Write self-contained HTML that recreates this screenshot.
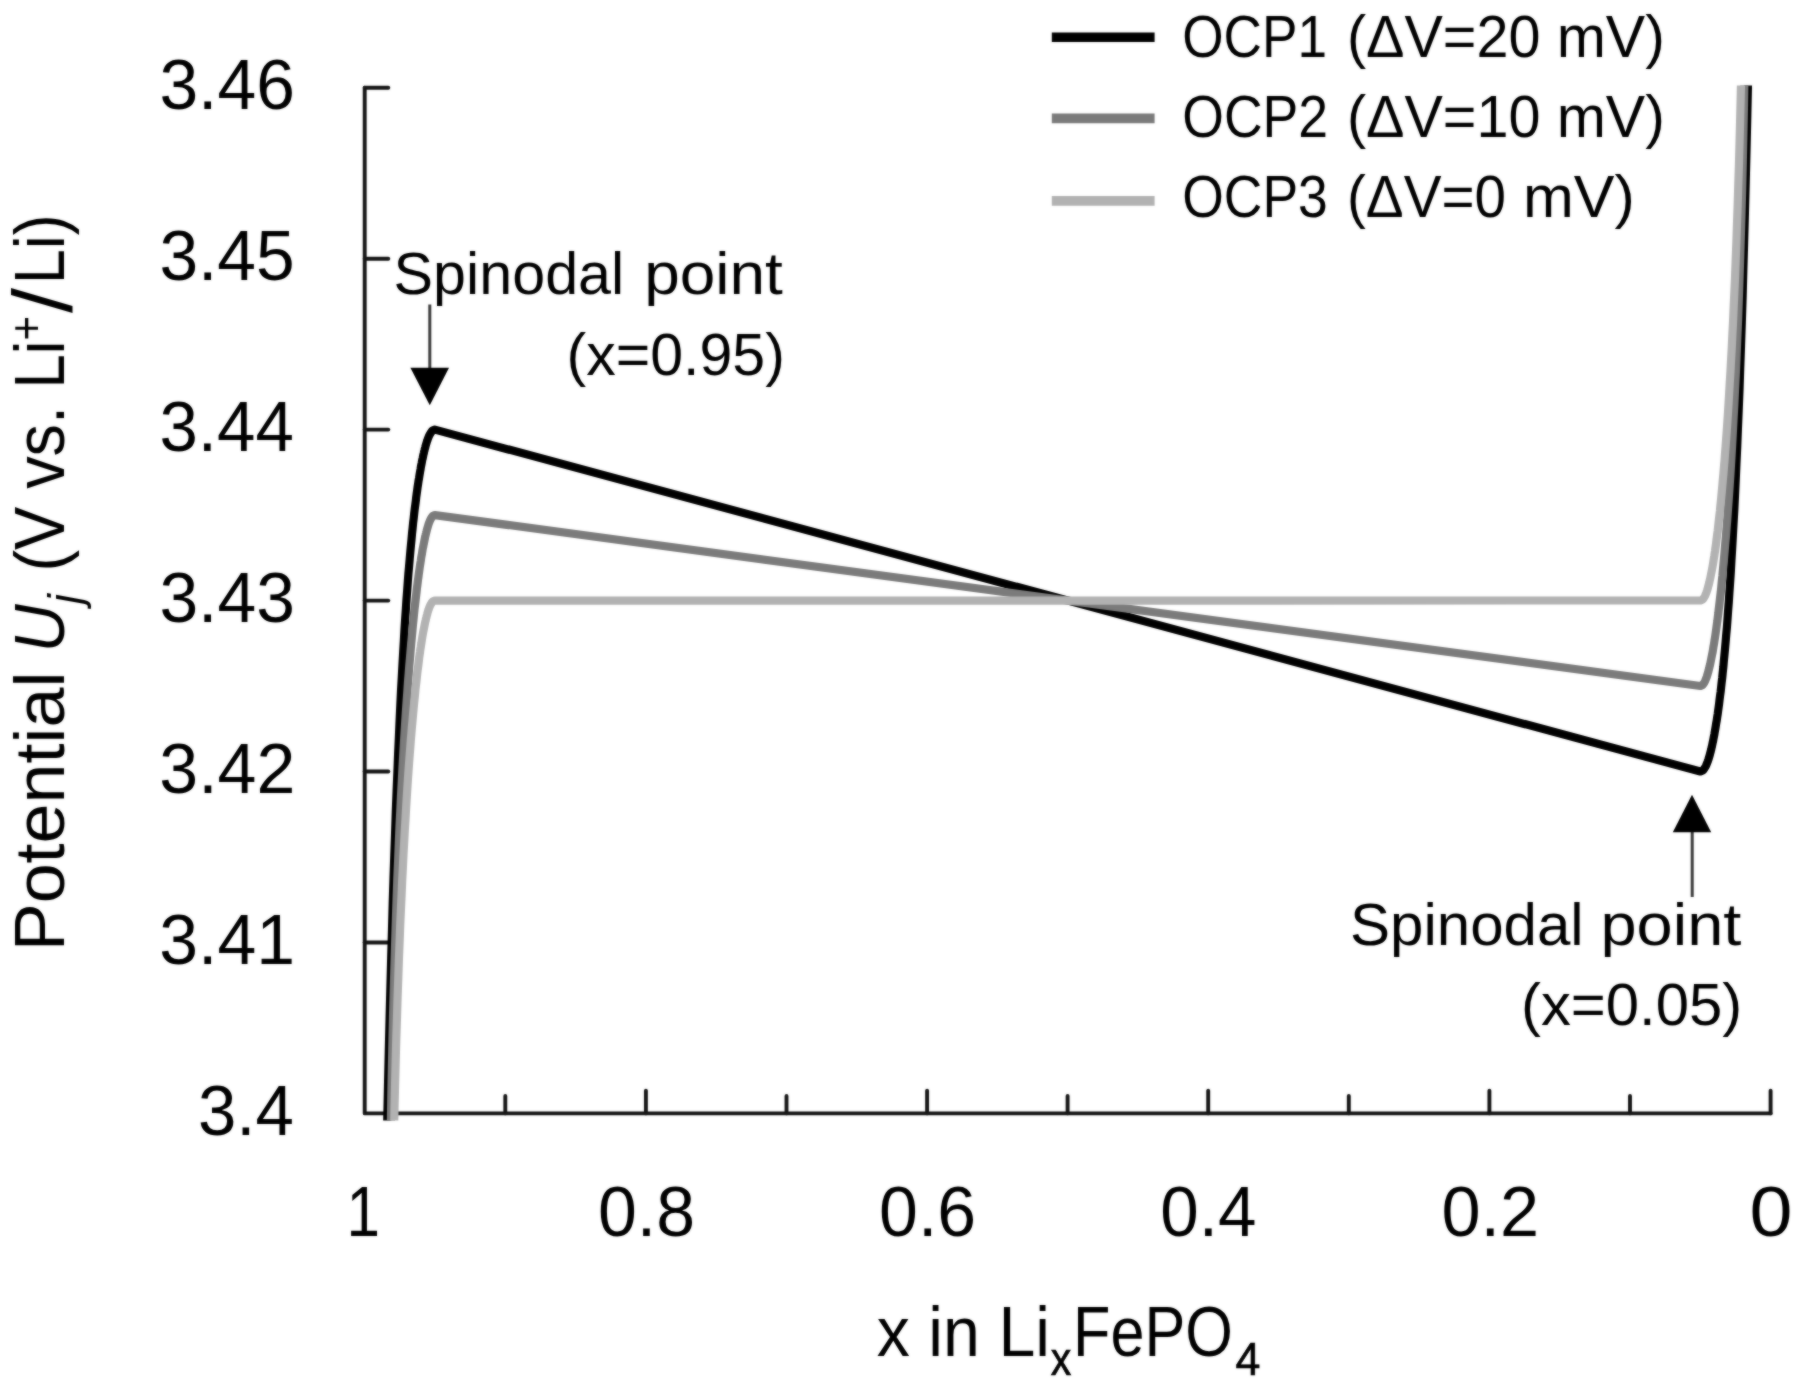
<!DOCTYPE html>
<html lang="en"><head><meta charset="utf-8"><title>OCP of LixFePO4</title>
<style>html,body{margin:0;padding:0;background:#fff}svg{display:block}text{font-family:"Liberation Sans",sans-serif;fill:#000}</style></head><body>
<svg width="1800" height="1391" viewBox="0 0 1800 1391">
<defs><clipPath id="plot"><rect x="300" y="85.6" width="1500" height="1034.9"/></clipPath><filter id="soft" filterUnits="userSpaceOnUse" x="0" y="0" width="1800" height="1391" color-interpolation-filters="sRGB"><feGaussianBlur in="SourceGraphic" stdDeviation="0.9" result="b"/><feComposite in="SourceGraphic" in2="b" operator="arithmetic" k1="0" k2="0.45" k3="0.55" k4="0"/></filter></defs>
<g filter="url(#soft)">
<rect width="1800" height="1391" fill="#fff"/>
<g fill="none" stroke="#141414" stroke-width="3.9" stroke-linecap="round" stroke-linejoin="round">
<path d="M364.7 87.7 V1113.4 H1770.6"/>
<path d="M364.7 87.7 h23.6"/>
<path d="M364.7 258.7 h23.6"/>
<path d="M364.7 429.6 h23.6"/>
<path d="M364.7 600.6 h23.6"/>
<path d="M364.7 771.5 h23.6"/>
<path d="M364.7 942.5 h23.6"/>
<path d="M505.3 1113.4 v-17.4"/>
<path d="M645.9 1113.4 v-22.6"/>
<path d="M786.5 1113.4 v-17.4"/>
<path d="M927.1 1113.4 v-22.6"/>
<path d="M1067.6 1113.4 v-17.4"/>
<path d="M1208.2 1113.4 v-22.6"/>
<path d="M1348.8 1113.4 v-17.4"/>
<path d="M1489.4 1113.4 v-22.6"/>
<path d="M1630.0 1113.4 v-17.4"/>
<path d="M1770.6 1113.4 v-22.6"/>
</g>
<g clip-path="url(#plot)" fill="none" stroke-width="8.2" stroke-linejoin="round" stroke-linecap="butt">
<path stroke="#000000" d="M386.4 1161.1 L387.2 1122.6 L388.0 1086.0 L388.8 1051.4 L389.6 1018.7 L390.4 987.6 L391.2 958.2 L392.0 930.4 L392.7 904.0 L393.5 879.0 L394.3 855.3 L395.1 832.9 L395.8 811.6 L396.6 791.5 L397.4 772.4 L398.1 754.4 L398.9 737.2 L399.6 721.0 L400.3 705.7 L401.0 691.1 L401.8 677.3 L402.5 664.3 L403.2 651.9 L403.9 640.2 L404.5 629.1 L405.2 618.6 L405.9 608.6 L406.5 599.2 L407.2 590.3 L407.8 581.8 L408.4 573.8 L409.1 566.2 L409.7 559.0 L410.3 552.2 L410.9 545.7 L411.5 539.6 L412.0 533.8 L412.6 528.3 L413.1 523.1 L413.7 518.2 L414.2 513.5 L414.7 509.1 L415.3 504.9 L415.8 500.9 L416.2 497.2 L416.7 493.6 L417.2 490.2 L417.6 487.0 L418.1 484.0 L418.5 481.1 L419.0 478.4 L419.4 475.9 L419.8 473.4 L420.2 471.1 L420.6 468.9 L420.9 466.9 L421.3 464.9 L421.7 463.0 L422.0 461.3 L422.3 459.6 L422.6 458.6 L422.8 457.6 L423.0 456.6 L423.2 455.6 L423.4 454.6 L423.7 453.6 L423.9 452.6 L424.1 451.6 L424.4 450.6 L424.6 449.6 L424.9 448.6 L425.2 447.6 L425.4 446.6 L425.7 445.6 L426.0 444.6 L426.3 443.6 L426.6 442.6 L426.9 441.6 L427.3 440.6 L427.6 439.6 L428.0 438.6 L428.4 437.6 L428.8 436.6 L429.2 435.6 L429.7 434.6 L430.3 433.6 L430.9 432.6 L431.6 431.6 L432.5 430.6 L434.9 429.6 L1700.4 771.5 L1702.8 770.5 L1703.7 769.5 L1704.4 768.5 L1705.0 767.5 L1705.6 766.5 L1706.1 765.5 L1706.5 764.5 L1706.9 763.5 L1707.3 762.5 L1707.7 761.5 L1708.0 760.5 L1708.4 759.5 L1708.7 758.5 L1709.0 757.5 L1709.3 756.5 L1709.6 755.5 L1709.9 754.5 L1710.1 753.5 L1710.4 752.5 L1710.7 751.5 L1710.9 750.5 L1711.2 749.5 L1711.4 748.5 L1711.6 747.5 L1711.9 746.5 L1712.1 745.5 L1712.3 744.5 L1712.5 743.5 L1712.7 742.5 L1713.0 741.5 L1713.3 739.8 L1713.6 738.1 L1714.0 736.2 L1714.4 734.2 L1714.7 732.2 L1715.1 730.0 L1715.5 727.7 L1715.9 725.2 L1716.3 722.7 L1716.8 720.0 L1717.2 717.1 L1717.7 714.1 L1718.1 710.9 L1718.6 707.5 L1719.1 703.9 L1719.5 700.2 L1720.0 696.2 L1720.6 692.0 L1721.1 687.6 L1721.6 682.9 L1722.2 678.0 L1722.7 672.8 L1723.3 667.3 L1723.8 661.5 L1724.4 655.4 L1725.0 648.9 L1725.6 642.1 L1726.2 634.9 L1726.9 627.3 L1727.5 619.3 L1728.1 610.8 L1728.8 601.9 L1729.4 592.5 L1730.1 582.5 L1730.8 572.0 L1731.4 560.9 L1732.1 549.2 L1732.8 536.8 L1733.5 523.8 L1734.3 510.0 L1735.0 495.4 L1735.7 480.1 L1736.4 463.9 L1737.2 446.7 L1737.9 428.7 L1738.7 409.6 L1739.5 389.5 L1740.2 368.2 L1741.0 345.8 L1741.8 322.1 L1742.6 297.1 L1743.3 270.7 L1744.1 242.9 L1744.9 213.5 L1745.7 182.4 L1746.5 149.7 L1747.3 115.1 L1748.1 78.5 L1748.9 40.0"/>
<path stroke="#7b7b7b" d="M390.3 1161.1 L390.8 1128.3 L391.3 1097.3 L391.9 1067.7 L392.5 1039.7 L393.1 1013.1 L393.8 987.9 L394.5 963.9 L395.2 941.2 L395.9 919.5 L396.6 899.0 L397.3 879.6 L398.1 861.1 L398.8 843.6 L399.5 826.9 L400.3 811.1 L401.0 796.1 L401.8 781.8 L402.5 768.3 L403.2 755.5 L403.9 743.3 L404.6 731.7 L405.3 720.7 L406.0 710.3 L406.7 700.4 L407.4 691.0 L408.0 682.1 L408.7 673.6 L409.3 665.6 L410.0 658.0 L410.6 650.7 L411.2 643.8 L411.8 637.3 L412.4 631.1 L412.9 625.2 L413.5 619.6 L414.0 614.3 L414.5 609.3 L415.1 604.5 L415.6 600.0 L416.1 595.7 L416.6 591.6 L417.0 587.7 L417.5 584.0 L417.9 580.5 L418.4 577.2 L418.8 574.1 L419.2 571.1 L419.6 568.2 L420.0 565.5 L420.4 563.0 L420.8 560.6 L421.1 558.3 L421.5 556.1 L421.9 554.0 L422.2 552.0 L422.5 550.1 L422.8 548.4 L423.2 546.7 L423.5 545.1 L423.7 544.1 L423.9 543.1 L424.1 542.1 L424.3 541.1 L424.5 540.1 L424.7 539.1 L424.9 538.1 L425.1 537.1 L425.3 536.1 L425.6 535.1 L425.8 534.1 L426.1 533.1 L426.3 532.1 L426.6 531.1 L426.8 530.1 L427.1 529.1 L427.4 528.1 L427.7 527.1 L428.0 526.1 L428.3 525.1 L428.6 524.1 L429.0 523.1 L429.4 522.1 L429.8 521.1 L430.2 520.1 L430.7 519.1 L431.2 518.1 L431.9 517.1 L432.7 516.1 L434.9 515.1 L1700.4 686.0 L1702.6 685.0 L1703.4 684.0 L1704.1 683.0 L1704.6 682.0 L1705.1 681.0 L1705.5 680.0 L1705.9 679.0 L1706.3 678.0 L1706.7 677.0 L1707.0 676.0 L1707.3 675.0 L1707.6 674.0 L1707.9 673.0 L1708.2 672.0 L1708.5 671.0 L1708.7 670.0 L1709.0 669.0 L1709.2 668.0 L1709.5 667.0 L1709.7 666.0 L1710.0 665.0 L1710.2 664.0 L1710.4 663.0 L1710.6 662.0 L1710.8 661.0 L1711.0 660.0 L1711.2 659.0 L1711.4 658.0 L1711.6 657.0 L1711.8 656.0 L1712.1 654.4 L1712.5 652.7 L1712.8 651.0 L1713.1 649.1 L1713.4 647.1 L1713.8 645.0 L1714.2 642.8 L1714.5 640.5 L1714.9 638.1 L1715.3 635.6 L1715.7 632.9 L1716.1 630.0 L1716.5 627.0 L1716.9 623.9 L1717.4 620.6 L1717.8 617.1 L1718.3 613.4 L1718.7 609.5 L1719.2 605.4 L1719.7 601.1 L1720.2 596.6 L1720.8 591.8 L1721.3 586.8 L1721.8 581.5 L1722.4 575.9 L1722.9 570.0 L1723.5 563.8 L1724.1 557.3 L1724.7 550.4 L1725.3 543.1 L1726.0 535.5 L1726.6 527.5 L1727.3 519.0 L1727.9 510.1 L1728.6 500.7 L1729.3 490.8 L1730.0 480.4 L1730.7 469.4 L1731.4 457.8 L1732.1 445.6 L1732.8 432.8 L1733.5 419.3 L1734.3 405.0 L1735.0 390.0 L1735.8 374.2 L1736.5 357.5 L1737.2 340.0 L1738.0 321.5 L1738.7 302.1 L1739.4 281.6 L1740.1 259.9 L1740.8 237.2 L1741.5 213.2 L1742.2 188.0 L1742.8 161.4 L1743.4 133.4 L1744.0 103.8 L1744.5 72.8 L1745.0 40.0"/>
<path stroke="#b2b2b2" d="M393.4 1161.1 L394.0 1134.0 L394.5 1108.1 L395.1 1083.6 L395.7 1060.2 L396.3 1037.9 L397.0 1016.8 L397.6 996.6 L398.3 977.4 L398.9 959.2 L399.6 941.8 L400.2 925.3 L400.9 909.6 L401.6 894.6 L402.2 880.4 L402.9 866.8 L403.5 853.9 L404.2 841.7 L404.8 830.0 L405.5 818.9 L406.1 808.3 L406.7 798.3 L407.3 788.7 L407.9 779.6 L408.5 770.9 L409.1 762.7 L409.7 754.8 L410.3 747.4 L410.8 740.2 L411.4 733.5 L411.9 727.1 L412.5 720.9 L413.0 715.1 L413.5 709.6 L414.0 704.3 L414.5 699.3 L415.0 694.5 L415.4 689.9 L415.9 685.6 L416.4 681.5 L416.8 677.6 L417.2 673.8 L417.6 670.3 L418.1 666.9 L418.5 663.7 L418.9 660.6 L419.2 657.7 L419.6 655.0 L420.0 652.3 L420.3 649.8 L420.7 647.4 L421.0 645.2 L421.4 643.0 L421.7 641.0 L422.0 639.0 L422.3 637.1 L422.6 635.4 L422.9 633.7 L423.2 632.1 L423.5 630.6 L423.7 629.6 L423.9 628.6 L424.1 627.6 L424.3 626.6 L424.5 625.6 L424.7 624.6 L424.9 623.6 L425.1 622.6 L425.3 621.6 L425.6 620.6 L425.8 619.6 L426.0 618.6 L426.3 617.6 L426.5 616.6 L426.8 615.6 L427.1 614.6 L427.3 613.6 L427.6 612.6 L427.9 611.6 L428.2 610.6 L428.6 609.6 L428.9 608.6 L429.3 607.6 L429.7 606.6 L430.1 605.6 L430.6 604.6 L431.2 603.6 L431.8 602.6 L432.7 601.6 L434.9 600.6 L1700.4 600.5 L1702.6 599.5 L1703.5 598.5 L1704.1 597.5 L1704.7 596.5 L1705.2 595.5 L1705.6 594.5 L1706.0 593.5 L1706.4 592.5 L1706.7 591.5 L1707.1 590.5 L1707.4 589.5 L1707.7 588.5 L1708.0 587.5 L1708.2 586.5 L1708.5 585.5 L1708.8 584.5 L1709.0 583.5 L1709.3 582.5 L1709.5 581.5 L1709.7 580.5 L1710.0 579.5 L1710.2 578.5 L1710.4 577.5 L1710.6 576.5 L1710.8 575.5 L1711.0 574.5 L1711.2 573.5 L1711.4 572.5 L1711.6 571.5 L1711.8 570.5 L1712.1 569.0 L1712.4 567.4 L1712.7 565.7 L1713.0 564.0 L1713.3 562.1 L1713.6 560.1 L1713.9 558.1 L1714.3 555.9 L1714.6 553.7 L1715.0 551.3 L1715.3 548.8 L1715.7 546.1 L1716.1 543.4 L1716.4 540.5 L1716.8 537.4 L1717.2 534.2 L1717.7 530.8 L1718.1 527.3 L1718.5 523.5 L1718.9 519.6 L1719.4 515.5 L1719.9 511.2 L1720.3 506.6 L1720.8 501.8 L1721.3 496.8 L1721.8 491.5 L1722.3 486.0 L1722.8 480.2 L1723.4 474.0 L1723.9 467.6 L1724.5 460.9 L1725.0 453.7 L1725.6 446.3 L1726.2 438.4 L1726.8 430.2 L1727.4 421.5 L1728.0 412.4 L1728.6 402.8 L1729.2 392.8 L1729.8 382.2 L1730.5 371.1 L1731.1 359.4 L1731.8 347.2 L1732.4 334.3 L1733.1 320.7 L1733.7 306.5 L1734.4 291.5 L1735.1 275.8 L1735.7 259.3 L1736.4 241.9 L1737.0 223.7 L1737.7 204.5 L1738.3 184.3 L1739.0 163.2 L1739.6 140.9 L1740.2 117.5 L1740.8 93.0 L1741.3 67.1 L1741.9 40.0"/>
</g>
<g stroke-width="9.6" fill="none">
<path stroke="#000000" d="M1051.8 37.3 H1154.6"/>
<path stroke="#7b7b7b" d="M1051.8 118.4 H1154.6"/>
<path stroke="#b2b2b2" d="M1051.8 200.9 H1154.6"/>
</g>
<g stroke="#3a3a3a" stroke-width="3.0" fill="none">
<path d="M429.8 304.5 V372"/>
<path d="M1692.2 897 V828"/>
</g>
<path d="M410.4 367.8 H449 L429.8 405.2 Z" fill="#000"/>
<path d="M1672.8 832.2 H1711.2 L1692 794.8 Z" fill="#000"/>
<text x="159.4" y="108.9" font-size="71.0" textLength="135.5" lengthAdjust="spacingAndGlyphs">3.46</text>
<text x="159.4" y="279.9" font-size="71.0" textLength="135.3" lengthAdjust="spacingAndGlyphs">3.45</text>
<text x="159.4" y="450.8" font-size="71.0" textLength="134.4" lengthAdjust="spacingAndGlyphs">3.44</text>
<text x="159.4" y="621.8" font-size="71.0" textLength="135.5" lengthAdjust="spacingAndGlyphs">3.43</text>
<text x="159.3" y="792.7" font-size="71.0" textLength="136.0" lengthAdjust="spacingAndGlyphs">3.42</text>
<text x="159.3" y="963.7" font-size="71.0" textLength="135.8" lengthAdjust="spacingAndGlyphs">3.41</text>
<text x="197.9" y="1134.6" font-size="71.0" textLength="95.9" lengthAdjust="spacingAndGlyphs">3.4</text>
<text x="346.4" y="1236.0" font-size="71.0" textLength="33.5" lengthAdjust="spacingAndGlyphs">1</text>
<text x="598.0" y="1236.0" font-size="71.0" textLength="97.1" lengthAdjust="spacingAndGlyphs">0.8</text>
<text x="879.1" y="1236.0" font-size="71.0" textLength="97.1" lengthAdjust="spacingAndGlyphs">0.6</text>
<text x="1160.3" y="1236.0" font-size="71.0" textLength="96.1" lengthAdjust="spacingAndGlyphs">0.4</text>
<text x="1441.5" y="1236.0" font-size="71.0" textLength="97.7" lengthAdjust="spacingAndGlyphs">0.2</text>
<text x="1749.5" y="1236.0" font-size="71.0" textLength="43.0" lengthAdjust="spacingAndGlyphs">0</text>
<text x="876.8" y="1356.3" font-size="71.0" textLength="173.2" lengthAdjust="spacingAndGlyphs">x in Li</text>
<text x="1050.8" y="1374.6" font-size="45.5" textLength="20.5" lengthAdjust="spacingAndGlyphs" stroke="#000" stroke-width="0.7">x</text>
<text x="1073.0" y="1356.3" font-size="71.0" textLength="160.0" lengthAdjust="spacingAndGlyphs">FePO</text>
<text x="1235.4" y="1374.6" font-size="45.5" textLength="24.9" lengthAdjust="spacingAndGlyphs" stroke="#000" stroke-width="0.7">4</text>
<text x="-5.9" y="0" font-size="71.0" textLength="279.7" lengthAdjust="spacingAndGlyphs" transform="translate(64.0 945.4) rotate(-90)">Potential</text>
<text x="-4.9" y="0" font-size="71.0" textLength="48.3" lengthAdjust="spacingAndGlyphs" font-style="italic" transform="translate(64.0 647.6) rotate(-90)">U</text>
<text x="5.0" y="0" font-size="45.5" textLength="9.9" lengthAdjust="spacingAndGlyphs" font-style="italic" transform="translate(81.2 609.0) rotate(-90)">j</text>
<text x="-4.0" y="0" font-size="71.0" textLength="165.6" lengthAdjust="spacingAndGlyphs" transform="translate(64.0 567.6) rotate(-90)">(V vs.</text>
<text x="-5.0" y="0" font-size="71.0" textLength="47.9" lengthAdjust="spacingAndGlyphs" transform="translate(64.0 383.5) rotate(-90)">Li</text>
<text x="-2.0" y="0" font-size="45.5" textLength="24.6" lengthAdjust="spacingAndGlyphs" transform="translate(41.5 338.4) rotate(-90)">+</text>
<text x="-0.0" y="0" font-size="84" textLength="25.0" lengthAdjust="spacingAndGlyphs" transform="translate(72.0 313.0) rotate(-90)">/</text>
<text x="-5.2" y="0" font-size="71.0" textLength="70.0" lengthAdjust="spacingAndGlyphs" transform="translate(64.0 279.1) rotate(-90)">Li)</text>
<text x="1182.2" y="56.5" font-size="58.5" textLength="144.8" lengthAdjust="spacingAndGlyphs">OCP1</text>
<text x="1346.9" y="56.5" font-size="58.5" textLength="193.6" lengthAdjust="spacingAndGlyphs">(ΔV=20</text>
<text x="1556.7" y="56.5" font-size="58.5" textLength="108.2" lengthAdjust="spacingAndGlyphs">mV)</text>
<text x="1182.2" y="136.7" font-size="58.5" textLength="146.0" lengthAdjust="spacingAndGlyphs">OCP2</text>
<text x="1346.9" y="136.7" font-size="58.5" textLength="193.6" lengthAdjust="spacingAndGlyphs">(ΔV=10</text>
<text x="1556.7" y="136.7" font-size="58.5" textLength="108.2" lengthAdjust="spacingAndGlyphs">mV)</text>
<text x="1182.2" y="216.6" font-size="58.5" textLength="145.6" lengthAdjust="spacingAndGlyphs">OCP3</text>
<text x="1347.0" y="216.6" font-size="58.5" textLength="159.0" lengthAdjust="spacingAndGlyphs">(ΔV=0</text>
<text x="1522.9" y="216.6" font-size="58.5" textLength="111.8" lengthAdjust="spacingAndGlyphs">mV)</text>
<text x="393.6" y="294.2" font-size="58.5" textLength="230.6" lengthAdjust="spacingAndGlyphs">Spinodal</text>
<text x="644.2" y="294.2" font-size="58.5" textLength="138.7" lengthAdjust="spacingAndGlyphs">point</text>
<text x="566.5" y="374.7" font-size="58.5" textLength="218.4" lengthAdjust="spacingAndGlyphs">(x=0.95)</text>
<text x="1350.0" y="944.8" font-size="58.5" textLength="233.6" lengthAdjust="spacingAndGlyphs">Spinodal</text>
<text x="1600.5" y="944.8" font-size="58.5" textLength="140.8" lengthAdjust="spacingAndGlyphs">point</text>
<text x="1521.0" y="1024.9" font-size="58.5" textLength="221.2" lengthAdjust="spacingAndGlyphs">(x=0.05)</text>
</g>
</svg></body></html>
